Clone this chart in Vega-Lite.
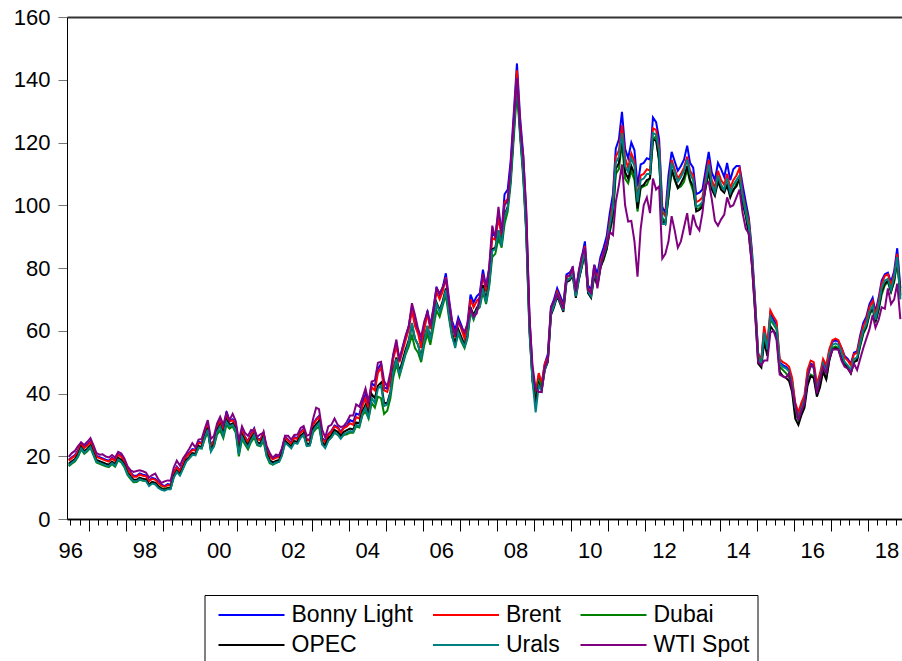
{
"$schema":"https://vega.github.io/schema/vega-lite/v6.json",
"width":835,"height":502,
"autosize":{"type":"none"},
"padding":{"left":67,"top":17,"right":0,"bottom":142},
"background":"white",
"config":{"view":{"stroke":null},"font":"Liberation Sans"},
"data":{"values":[
{"d":"1996-06-15","bl":18.9,"br":18.6,"du":16.8,"op":17.6,"ur":17.1,"wt":19.8},
{"d":"1996-07-15","bl":19.7,"br":19.4,"du":17.6,"op":18.4,"ur":17.9,"wt":21.0},
{"d":"1996-08-15","bl":20.4,"br":20.1,"du":18.3,"op":19.1,"ur":18.6,"wt":21.7},
{"d":"1996-09-15","bl":21.9,"br":21.6,"du":19.8,"op":20.6,"ur":20.1,"wt":23.2},
{"d":"1996-10-15","bl":24.2,"br":24.0,"du":22.2,"op":23.0,"ur":22.5,"wt":24.4},
{"d":"1996-11-15","bl":22.9,"br":22.6,"du":20.8,"op":21.6,"ur":21.1,"wt":23.6},
{"d":"1996-12-15","bl":23.7,"br":23.4,"du":21.6,"op":22.4,"ur":21.9,"wt":24.6},
{"d":"1997-01-15","bl":24.8,"br":24.5,"du":22.7,"op":23.5,"ur":23.0,"wt":25.8},
{"d":"1997-02-15","bl":22.3,"br":22.0,"du":20.2,"op":21.0,"ur":20.5,"wt":23.4},
{"d":"1997-03-15","bl":20.1,"br":19.8,"du":18.0,"op":18.8,"ur":18.3,"wt":21.0},
{"d":"1997-04-15","bl":19.7,"br":19.4,"du":17.6,"op":18.4,"ur":17.9,"wt":20.5},
{"d":"1997-05-15","bl":19.3,"br":19.0,"du":17.2,"op":18.0,"ur":17.5,"wt":20.6},
{"d":"1997-06-15","bl":18.9,"br":18.6,"du":16.8,"op":17.6,"ur":17.1,"wt":19.9},
{"d":"1997-07-15","bl":18.6,"br":18.3,"du":16.5,"op":17.3,"ur":16.8,"wt":19.6},
{"d":"1997-08-15","bl":19.6,"br":19.3,"du":17.5,"op":18.3,"ur":17.8,"wt":20.4},
{"d":"1997-09-15","bl":18.8,"br":18.5,"du":16.7,"op":17.5,"ur":17.0,"wt":19.6},
{"d":"1997-10-15","bl":20.8,"br":20.5,"du":18.7,"op":19.5,"ur":19.0,"wt":21.4},
{"d":"1997-11-15","bl":20.1,"br":19.8,"du":18.0,"op":18.8,"ur":18.3,"wt":20.9},
{"d":"1997-12-15","bl":18.6,"br":18.3,"du":16.5,"op":17.3,"ur":16.8,"wt":19.3},
{"d":"1998-01-15","bl":16.1,"br":15.8,"du":14.0,"op":14.8,"ur":14.3,"wt":16.8},
{"d":"1998-02-15","bl":14.8,"br":14.5,"du":12.7,"op":13.5,"ur":13.0,"wt":15.5},
{"d":"1998-03-15","bl":13.8,"br":13.5,"du":11.7,"op":12.5,"ur":12.0,"wt":15.0},
{"d":"1998-04-15","bl":13.8,"br":13.5,"du":11.8,"op":12.5,"ur":12.0,"wt":15.3},
{"d":"1998-05-15","bl":14.5,"br":14.2,"du":12.5,"op":13.2,"ur":12.7,"wt":15.5},
{"d":"1998-06-15","bl":14.1,"br":13.8,"du":12.2,"op":12.8,"ur":12.3,"wt":15.2},
{"d":"1998-07-15","bl":13.9,"br":13.6,"du":12.2,"op":12.6,"ur":12.1,"wt":14.8},
{"d":"1998-08-15","bl":12.3,"br":12.0,"du":10.8,"op":11.0,"ur":10.5,"wt":13.2},
{"d":"1998-09-15","bl":13.1,"br":12.8,"du":11.6,"op":11.8,"ur":11.3,"wt":14.0},
{"d":"1998-10-15","bl":12.8,"br":12.5,"du":11.4,"op":11.5,"ur":11.0,"wt":14.5},
{"d":"1998-11-15","bl":11.7,"br":11.4,"du":10.4,"op":10.4,"ur":9.9,"wt":12.6},
{"d":"1998-12-15","bl":10.9,"br":10.6,"du":9.8,"op":9.6,"ur":9.3,"wt":11.5},
{"d":"1999-01-15","bl":10.5,"br":10.2,"du":9.6,"op":9.3,"ur":9.0,"wt":12.0},
{"d":"1999-02-15","bl":11.1,"br":10.8,"du":10.0,"op":9.8,"ur":9.5,"wt":12.3},
{"d":"1999-03-15","bl":10.9,"br":10.6,"du":10.0,"op":9.8,"ur":9.5,"wt":12.2},
{"d":"1999-04-15","bl":14.9,"br":14.6,"du":13.4,"op":13.6,"ur":13.2,"wt":16.4},
{"d":"1999-05-15","bl":16.7,"br":16.4,"du":15.0,"op":15.4,"ur":15.0,"wt":18.6},
{"d":"1999-06-15","bl":15.5,"br":15.2,"du":14.2,"op":14.3,"ur":13.8,"wt":17.0},
{"d":"1999-07-15","bl":17.7,"br":17.4,"du":16.2,"op":16.4,"ur":16.0,"wt":19.3},
{"d":"1999-08-15","bl":20.1,"br":19.8,"du":18.4,"op":18.8,"ur":18.3,"wt":20.8},
{"d":"1999-09-15","bl":21.1,"br":20.8,"du":19.4,"op":19.8,"ur":19.3,"wt":22.4},
{"d":"1999-10-15","bl":22.3,"br":22.0,"du":20.4,"op":21.0,"ur":20.5,"wt":24.2},
{"d":"1999-11-15","bl":22.1,"br":21.8,"du":20.6,"op":20.8,"ur":20.3,"wt":22.8},
{"d":"1999-12-15","bl":24.6,"br":24.3,"du":22.6,"op":23.3,"ur":22.8,"wt":25.3},
{"d":"2000-01-15","bl":24.3,"br":24.0,"du":22.5,"op":23.0,"ur":22.5,"wt":25.5},
{"d":"2000-02-15","bl":27.8,"br":27.5,"du":25.5,"op":26.5,"ur":26.0,"wt":28.8},
{"d":"2000-03-15","bl":30.3,"br":30.0,"du":27.8,"op":29.0,"ur":28.5,"wt":31.5},
{"d":"2000-04-15","bl":23.3,"br":23.0,"du":21.8,"op":22.0,"ur":21.5,"wt":25.5},
{"d":"2000-05-15","bl":25.1,"br":24.8,"du":23.2,"op":23.8,"ur":23.3,"wt":26.5},
{"d":"2000-06-15","bl":29.6,"br":29.3,"du":27.0,"op":28.3,"ur":27.8,"wt":30.5},
{"d":"2000-07-15","bl":31.3,"br":31.0,"du":28.2,"op":30.0,"ur":29.5,"wt":32.6},
{"d":"2000-08-15","bl":28.3,"br":28.0,"du":25.8,"op":27.0,"ur":26.5,"wt":30.0},
{"d":"2000-09-15","bl":34.3,"br":32.8,"du":30.0,"op":31.6,"ur":31.0,"wt":33.8},
{"d":"2000-10-15","bl":31.3,"br":31.0,"du":28.8,"op":30.0,"ur":29.5,"wt":31.5},
{"d":"2000-11-15","bl":31.8,"br":31.5,"du":29.5,"op":30.5,"ur":30.0,"wt":33.5},
{"d":"2000-12-15","bl":30.3,"br":30.0,"du":27.5,"op":28.8,"ur":28.3,"wt":31.2},
{"d":"2001-01-15","bl":22.8,"br":22.5,"du":20.0,"op":21.5,"ur":20.6,"wt":25.0},
{"d":"2001-02-15","bl":28.1,"br":27.8,"du":25.5,"op":26.8,"ur":26.2,"wt":29.5},
{"d":"2001-03-15","bl":26.3,"br":26.0,"du":23.8,"op":25.0,"ur":24.3,"wt":27.5},
{"d":"2001-04-15","bl":24.8,"br":24.5,"du":22.2,"op":23.4,"ur":22.8,"wt":26.5},
{"d":"2001-05-15","bl":27.1,"br":26.8,"du":24.5,"op":25.7,"ur":25.0,"wt":28.4},
{"d":"2001-06-15","bl":28.9,"br":28.5,"du":26.0,"op":27.3,"ur":26.8,"wt":28.0},
{"d":"2001-07-15","bl":25.8,"br":25.5,"du":23.5,"op":24.5,"ur":23.8,"wt":26.2},
{"d":"2001-08-15","bl":25.3,"br":25.0,"du":23.2,"op":24.0,"ur":23.3,"wt":27.0},
{"d":"2001-09-15","bl":27.8,"br":27.5,"du":24.8,"op":26.4,"ur":25.8,"wt":27.5},
{"d":"2001-10-15","bl":22.3,"br":22.0,"du":20.0,"op":21.0,"ur":20.3,"wt":23.4},
{"d":"2001-11-15","bl":20.1,"br":19.8,"du":17.8,"op":18.8,"ur":18.2,"wt":21.0},
{"d":"2001-12-15","bl":19.3,"br":19.0,"du":17.3,"op":18.0,"ur":17.4,"wt":19.5},
{"d":"2002-01-15","bl":19.8,"br":19.5,"du":17.8,"op":18.5,"ur":18.0,"wt":20.5},
{"d":"2002-02-15","bl":20.1,"br":19.8,"du":18.3,"op":18.8,"ur":18.2,"wt":20.3},
{"d":"2002-03-15","bl":22.1,"br":21.8,"du":20.4,"op":20.8,"ur":20.2,"wt":22.5},
{"d":"2002-04-15","bl":26.3,"br":26.0,"du":24.3,"op":25.0,"ur":24.3,"wt":26.5},
{"d":"2002-05-15","bl":25.3,"br":25.0,"du":24.0,"op":24.0,"ur":23.5,"wt":26.5},
{"d":"2002-06-15","bl":24.3,"br":24.0,"du":23.0,"op":23.1,"ur":22.5,"wt":25.3},
{"d":"2002-07-15","bl":26.1,"br":25.8,"du":24.5,"op":24.8,"ur":24.3,"wt":26.8},
{"d":"2002-08-15","bl":25.8,"br":25.5,"du":24.6,"op":24.6,"ur":24.0,"wt":26.9},
{"d":"2002-09-15","bl":27.8,"br":27.5,"du":26.0,"op":26.4,"ur":25.9,"wt":29.0},
{"d":"2002-10-15","bl":28.8,"br":28.5,"du":26.8,"op":27.4,"ur":26.8,"wt":29.6},
{"d":"2002-11-15","bl":25.3,"br":25.0,"du":23.3,"op":24.0,"ur":23.3,"wt":26.5},
{"d":"2002-12-15","bl":25.3,"br":25.0,"du":23.6,"op":24.0,"ur":23.4,"wt":27.0},
{"d":"2003-01-15","bl":30.3,"br":30.0,"du":27.5,"op":28.8,"ur":28.0,"wt":31.8},
{"d":"2003-02-15","bl":31.8,"br":31.5,"du":28.8,"op":30.2,"ur":29.5,"wt":35.5},
{"d":"2003-03-15","bl":32.8,"br":32.5,"du":29.5,"op":31.2,"ur":30.5,"wt":35.0},
{"d":"2003-04-15","bl":25.8,"br":25.5,"du":23.8,"op":24.5,"ur":23.8,"wt":28.5},
{"d":"2003-05-15","bl":24.8,"br":24.5,"du":23.0,"op":23.5,"ur":22.6,"wt":26.0},
{"d":"2003-06-15","bl":27.1,"br":26.8,"du":25.0,"op":25.8,"ur":25.0,"wt":29.5},
{"d":"2003-07-15","bl":28.1,"br":27.8,"du":26.0,"op":26.8,"ur":26.0,"wt":30.0},
{"d":"2003-08-15","bl":29.8,"br":29.5,"du":27.5,"op":28.4,"ur":27.6,"wt":32.0},
{"d":"2003-09-15","bl":29.3,"br":29.0,"du":26.8,"op":27.8,"ur":27.0,"wt":30.0},
{"d":"2003-10-15","bl":27.8,"br":27.5,"du":25.8,"op":26.5,"ur":25.6,"wt":29.3},
{"d":"2003-11-15","bl":29.3,"br":29.0,"du":26.8,"op":27.8,"ur":27.0,"wt":29.7},
{"d":"2003-12-15","bl":29.8,"br":29.5,"du":27.0,"op":28.3,"ur":27.5,"wt":31.0},
{"d":"2004-01-15","bl":31.5,"br":30.5,"du":27.5,"op":28.8,"ur":28.0,"wt":33.0},
{"d":"2004-02-15","bl":31.0,"br":30.0,"du":27.5,"op":28.5,"ur":27.8,"wt":33.0},
{"d":"2004-03-15","bl":33.6,"br":32.5,"du":29.5,"op":30.8,"ur":30.0,"wt":36.5},
{"d":"2004-04-15","bl":33.2,"br":32.0,"du":29.2,"op":30.5,"ur":29.6,"wt":35.8},
{"d":"2004-05-15","bl":37.2,"br":36.0,"du":33.0,"op":34.3,"ur":33.5,"wt":38.5},
{"d":"2004-06-15","bl":39.7,"br":38.5,"du":34.3,"op":36.4,"ur":35.5,"wt":41.6},
{"d":"2004-07-15","bl":35.7,"br":34.5,"du":32.0,"op":33.0,"ur":32.0,"wt":37.3},
{"d":"2004-08-15","bl":43.3,"br":42.0,"du":37.0,"op":39.8,"ur":38.5,"wt":43.8},
{"d":"2004-09-15","bl":42.3,"br":41.0,"du":35.5,"op":38.5,"ur":37.0,"wt":44.2},
{"d":"2004-10-15","bl":47.8,"br":46.5,"du":39.0,"op":42.5,"ur":41.5,"wt":49.8},
{"d":"2004-11-15","bl":49.5,"br":48.5,"du":38.5,"op":43.5,"ur":42.5,"wt":50.1},
{"d":"2004-12-15","bl":42.0,"br":41.0,"du":33.5,"op":37.0,"ur":36.0,"wt":44.0},
{"d":"2005-01-15","bl":41.5,"br":40.5,"du":34.5,"op":37.0,"ur":36.5,"wt":42.2},
{"d":"2005-02-15","bl":45.0,"br":44.0,"du":38.5,"op":40.5,"ur":40.0,"wt":46.8},
{"d":"2005-03-15","bl":52.0,"br":51.0,"du":45.0,"op":47.5,"ur":47.0,"wt":52.5},
{"d":"2005-04-15","bl":56.0,"br":55.0,"du":49.5,"op":51.5,"ur":51.0,"wt":57.2},
{"d":"2005-05-15","bl":51.0,"br":50.0,"du":45.5,"op":47.0,"ur":46.0,"wt":50.5},
{"d":"2005-06-15","bl":54.5,"br":53.5,"du":49.0,"op":50.5,"ur":49.5,"wt":54.8},
{"d":"2005-07-15","bl":58.0,"br":57.0,"du":52.5,"op":54.0,"ur":53.0,"wt":58.5},
{"d":"2005-08-15","bl":61.5,"br":60.5,"du":55.0,"op":57.0,"ur":56.5,"wt":61.5},
{"d":"2005-09-15","bl":67.5,"br":66.5,"du":58.5,"op":62.0,"ur":62.5,"wt":68.8},
{"d":"2005-10-15","bl":62.5,"br":61.5,"du":54.5,"op":57.5,"ur":57.5,"wt":65.0},
{"d":"2005-11-15","bl":60.0,"br":59.0,"du":53.0,"op":55.5,"ur":55.5,"wt":60.5},
{"d":"2005-12-15","bl":55.5,"br":54.5,"du":50.0,"op":51.5,"ur":51.0,"wt":58.0},
{"d":"2006-01-15","bl":61.5,"br":60.5,"du":55.5,"op":57.5,"ur":57.0,"wt":63.0},
{"d":"2006-02-15","bl":66.5,"br":65.5,"du":59.0,"op":61.5,"ur":61.5,"wt":66.0},
{"d":"2006-03-15","bl":61.5,"br":60.5,"du":55.5,"op":57.5,"ur":57.0,"wt":61.5},
{"d":"2006-04-15","bl":67.2,"br":66.0,"du":61.0,"op":63.0,"ur":62.5,"wt":66.7},
{"d":"2006-05-15","bl":74.0,"br":72.5,"du":66.5,"op":69.0,"ur":68.5,"wt":73.5},
{"d":"2006-06-15","bl":71.3,"br":70.0,"du":64.5,"op":66.5,"ur":66.0,"wt":72.0},
{"d":"2006-07-15","bl":73.8,"br":72.5,"du":68.0,"op":69.5,"ur":68.8,"wt":73.9},
{"d":"2006-08-15","bl":78.3,"br":77.0,"du":71.5,"op":73.5,"ur":73.0,"wt":76.5},
{"d":"2006-09-15","bl":70.2,"br":69.0,"du":64.0,"op":65.8,"ur":65.0,"wt":69.0},
{"d":"2006-10-15","bl":63.2,"br":62.0,"du":58.0,"op":59.2,"ur":58.5,"wt":62.5},
{"d":"2006-11-15","bl":60.2,"br":58.0,"du":55.5,"op":56.0,"ur":54.5,"wt":58.5},
{"d":"2006-12-15","bl":64.2,"br":63.0,"du":59.0,"op":60.5,"ur":59.5,"wt":63.2},
{"d":"2007-01-15","bl":61.7,"br":60.5,"du":56.5,"op":58.0,"ur":57.0,"wt":61.0},
{"d":"2007-02-15","bl":58.7,"br":57.5,"du":54.5,"op":55.5,"ur":54.9,"wt":59.7},
{"d":"2007-03-15","bl":62.2,"br":61.0,"du":57.5,"op":58.5,"ur":58.0,"wt":62.0},
{"d":"2007-04-15","bl":71.5,"br":70.0,"du":66.0,"op":67.5,"ur":66.5,"wt":67.0},
{"d":"2007-05-15","bl":69.0,"br":67.5,"du":63.5,"op":65.0,"ur":64.0,"wt":64.5},
{"d":"2007-06-15","bl":71.0,"br":69.5,"du":66.5,"op":67.3,"ur":66.5,"wt":65.5},
{"d":"2007-07-15","bl":72.0,"br":70.5,"du":67.5,"op":68.5,"ur":67.8,"wt":71.0},
{"d":"2007-08-15","bl":79.5,"br":77.5,"du":72.5,"op":74.5,"ur":73.5,"wt":78.2},
{"d":"2007-09-15","bl":73.9,"br":72.5,"du":68.5,"op":70.0,"ur":69.0,"wt":74.0},
{"d":"2007-10-15","bl":79.5,"br":78.0,"du":74.0,"op":75.5,"ur":74.5,"wt":80.0},
{"d":"2007-11-15","bl":91.0,"br":89.5,"du":83.5,"op":86.0,"ur":85.5,"wt":93.5},
{"d":"2007-12-15","bl":90.5,"br":89.0,"du":84.5,"op":86.5,"ur":86.0,"wt":89.5},
{"d":"2008-01-15","bl":97.5,"br":96.0,"du":89.5,"op":92.0,"ur":92.0,"wt":99.5},
{"d":"2008-02-15","bl":91.5,"br":90.0,"du":86.5,"op":87.5,"ur":87.0,"wt":91.0},
{"d":"2008-03-15","bl":103.5,"br":101.0,"du":94.0,"op":97.0,"ur":96.5,"wt":100.0},
{"d":"2008-04-15","bl":105.0,"br":102.0,"du":98.0,"op":99.5,"ur":99.0,"wt":101.5},
{"d":"2008-05-15","bl":114.5,"br":111.5,"du":107.0,"op":109.0,"ur":108.5,"wt":112.5},
{"d":"2008-06-15","bl":130.0,"br":127.5,"du":122.0,"op":124.5,"ur":124.0,"wt":127.5},
{"d":"2008-07-15","bl":145.2,"br":143.0,"du":136.5,"op":139.5,"ur":139.0,"wt":140.5},
{"d":"2008-08-15","bl":128.0,"br":126.0,"du":122.0,"op":123.5,"ur":123.0,"wt":125.0},
{"d":"2008-09-15","bl":116.0,"br":113.5,"du":108.5,"op":110.5,"ur":110.0,"wt":115.5},
{"d":"2008-10-15","bl":96.5,"br":94.5,"du":90.5,"op":92.0,"ur":91.0,"wt":98.5},
{"d":"2008-11-15","bl":65.0,"br":63.5,"du":59.5,"op":61.5,"ur":60.5,"wt":64.0},
{"d":"2008-12-15","bl":47.0,"br":46.0,"du":44.0,"op":44.5,"ur":44.0,"wt":49.0},
{"d":"2009-01-15","bl":36.5,"br":40.5,"du":38.0,"op":37.5,"ur":34.0,"wt":41.5},
{"d":"2009-02-15","bl":46.0,"br":46.5,"du":44.0,"op":43.0,"ur":42.5,"wt":40.5},
{"d":"2009-03-15","bl":43.0,"br":43.0,"du":42.5,"op":41.0,"ur":41.0,"wt":40.5},
{"d":"2009-04-15","bl":49.5,"br":49.5,"du":48.0,"op":47.5,"ur":47.5,"wt":48.5},
{"d":"2009-05-15","bl":52.5,"br":51.5,"du":50.5,"op":50.0,"ur":50.5,"wt":50.5},
{"d":"2009-06-15","bl":67.5,"br":66.5,"du":66.0,"op":65.0,"ur":65.5,"wt":67.5},
{"d":"2009-07-15","bl":70.0,"br":69.0,"du":69.0,"op":67.5,"ur":68.0,"wt":69.5},
{"d":"2009-08-15","bl":73.5,"br":72.5,"du":71.5,"op":71.0,"ur":71.5,"wt":71.5},
{"d":"2009-09-15","bl":71.0,"br":70.0,"du":69.5,"op":68.5,"ur":69.0,"wt":69.5},
{"d":"2009-10-15","bl":68.5,"br":67.5,"du":67.0,"op":66.0,"ur":66.5,"wt":67.0},
{"d":"2009-11-15","bl":78.0,"br":77.0,"du":76.5,"op":75.5,"ur":76.0,"wt":77.5},
{"d":"2009-12-15","bl":78.5,"br":77.5,"du":76.5,"op":76.0,"ur":76.5,"wt":77.5},
{"d":"2010-01-15","bl":80.0,"br":79.0,"du":78.0,"op":77.5,"ur":78.0,"wt":80.5},
{"d":"2010-02-15","bl":73.0,"br":72.0,"du":72.5,"op":70.5,"ur":71.0,"wt":72.5},
{"d":"2010-03-15","bl":78.5,"br":77.5,"du":76.5,"op":76.0,"ur":76.5,"wt":79.0},
{"d":"2010-04-15","bl":83.5,"br":82.0,"du":80.5,"op":80.5,"ur":81.0,"wt":84.0},
{"d":"2010-05-15","bl":88.5,"br":87.0,"du":84.5,"op":85.0,"ur":85.5,"wt":86.0},
{"d":"2010-06-15","bl":74.5,"br":73.5,"du":72.5,"op":72.0,"ur":72.5,"wt":73.0},
{"d":"2010-07-15","bl":73.0,"br":72.0,"du":71.5,"op":70.5,"ur":71.0,"wt":72.0},
{"d":"2010-08-15","bl":81.0,"br":79.5,"du":77.5,"op":77.5,"ur":78.5,"wt":81.0},
{"d":"2010-09-15","bl":78.0,"br":76.5,"du":74.5,"op":74.5,"ur":75.5,"wt":73.5},
{"d":"2010-10-15","bl":83.5,"br":82.0,"du":80.5,"op":80.0,"ur":81.0,"wt":80.0},
{"d":"2010-11-15","bl":86.5,"br":85.0,"du":82.5,"op":83.0,"ur":84.0,"wt":84.5},
{"d":"2010-12-15","bl":90.0,"br":88.0,"du":86.0,"op":86.0,"ur":87.0,"wt":87.5},
{"d":"2011-01-15","bl":97.5,"br":95.0,"du":91.5,"op":92.0,"ur":93.5,"wt":91.5},
{"d":"2011-02-15","bl":103.5,"br":101.0,"du":96.0,"op":97.5,"ur":99.0,"wt":90.5},
{"d":"2011-03-15","bl":118.0,"br":115.5,"du":110.0,"op":111.5,"ur":113.5,"wt":101.0},
{"d":"2011-04-15","bl":121.0,"br":117.5,"du":111.5,"op":113.5,"ur":115.5,"wt":106.5},
{"d":"2011-05-15","bl":129.8,"br":125.5,"du":120.0,"op":121.5,"ur":123.0,"wt":113.0},
{"d":"2011-06-15","bl":118.0,"br":115.0,"du":108.5,"op":110.5,"ur":112.5,"wt":100.0},
{"d":"2011-07-15","bl":115.0,"br":112.0,"du":107.0,"op":108.5,"ur":110.5,"wt":94.8},
{"d":"2011-08-15","bl":120.0,"br":116.5,"du":111.0,"op":112.5,"ur":115.0,"wt":95.0},
{"d":"2011-09-15","bl":117.5,"br":114.0,"du":108.0,"op":110.0,"ur":112.5,"wt":88.5},
{"d":"2011-10-15","bl":106.0,"br":102.0,"du":98.0,"op":99.0,"ur":101.0,"wt":77.2},
{"d":"2011-11-15","bl":113.0,"br":109.5,"du":105.5,"op":106.0,"ur":108.0,"wt":92.5},
{"d":"2011-12-15","bl":113.5,"br":110.0,"du":106.0,"op":106.5,"ur":108.5,"wt":100.0},
{"d":"2012-01-15","bl":115.0,"br":111.5,"du":106.5,"op":108.0,"ur":110.0,"wt":102.5},
{"d":"2012-02-15","bl":114.5,"br":111.0,"du":109.0,"op":108.5,"ur":110.0,"wt":97.5},
{"d":"2012-03-15","bl":128.0,"br":124.5,"du":121.0,"op":121.0,"ur":123.0,"wt":108.5},
{"d":"2012-04-15","bl":126.5,"br":124.0,"du":122.0,"op":120.5,"ur":122.5,"wt":105.0},
{"d":"2012-05-15","bl":121.0,"br":118.5,"du":113.5,"op":114.5,"ur":117.0,"wt":106.0},
{"d":"2012-06-15","bl":99.5,"br":98.0,"du":96.0,"op":95.0,"ur":94.0,"wt":83.0},
{"d":"2012-07-15","bl":97.5,"br":96.5,"du":94.5,"op":94.0,"ur":94.0,"wt":84.5},
{"d":"2012-08-15","bl":109.5,"br":106.0,"du":102.5,"op":103.0,"ur":105.0,"wt":88.5},
{"d":"2012-09-15","bl":117.0,"br":114.5,"du":111.0,"op":111.5,"ur":113.5,"wt":96.5},
{"d":"2012-10-15","bl":114.0,"br":111.5,"du":108.0,"op":108.5,"ur":110.5,"wt":92.0},
{"d":"2012-11-15","bl":111.0,"br":108.5,"du":105.5,"op":105.5,"ur":107.5,"wt":86.5},
{"d":"2012-12-15","bl":112.5,"br":110.0,"du":106.0,"op":107.0,"ur":109.0,"wt":88.5},
{"d":"2013-01-15","bl":114.5,"br":112.0,"du":107.5,"op":109.0,"ur":111.0,"wt":93.0},
{"d":"2013-02-15","bl":119.0,"br":115.5,"du":111.5,"op":112.5,"ur":114.5,"wt":97.5},
{"d":"2013-03-15","bl":113.5,"br":111.0,"du":107.5,"op":108.0,"ur":110.0,"wt":90.5},
{"d":"2013-04-15","bl":112.0,"br":109.5,"du":104.5,"op":106.0,"ur":108.0,"wt":97.0},
{"d":"2013-05-15","bl":103.5,"br":101.0,"du":99.0,"op":98.0,"ur":99.5,"wt":93.5},
{"d":"2013-06-15","bl":104.0,"br":101.5,"du":99.0,"op":98.5,"ur":100.0,"wt":92.0},
{"d":"2013-07-15","bl":105.0,"br":102.5,"du":100.5,"op":99.5,"ur":101.0,"wt":97.5},
{"d":"2013-08-15","bl":111.0,"br":108.5,"du":105.5,"op":105.5,"ur":107.0,"wt":106.5},
{"d":"2013-09-15","bl":117.0,"br":114.5,"du":110.5,"op":111.0,"ur":113.0,"wt":107.5},
{"d":"2013-10-15","bl":110.5,"br":108.0,"du":105.5,"op":105.0,"ur":106.5,"wt":102.0},
{"d":"2013-11-15","bl":108.0,"br":105.5,"du":104.5,"op":103.0,"ur":104.0,"wt":95.0},
{"d":"2013-12-15","bl":113.5,"br":111.0,"du":108.5,"op":107.5,"ur":109.5,"wt":93.5},
{"d":"2014-01-15","bl":111.5,"br":108.0,"du":106.0,"op":105.0,"ur":106.5,"wt":95.5},
{"d":"2014-02-15","bl":109.0,"br":106.5,"du":105.0,"op":104.0,"ur":105.0,"wt":97.0},
{"d":"2014-03-15","bl":113.5,"br":110.0,"du":106.0,"op":106.5,"ur":108.5,"wt":102.5},
{"d":"2014-04-15","bl":108.0,"br":105.5,"du":103.5,"op":102.5,"ur":104.0,"wt":99.5},
{"d":"2014-05-15","bl":111.5,"br":108.0,"du":104.5,"op":105.0,"ur":106.5,"wt":100.0},
{"d":"2014-06-15","bl":112.5,"br":109.5,"du":107.0,"op":106.0,"ur":108.0,"wt":102.5},
{"d":"2014-07-15","bl":112.5,"br":111.8,"du":108.0,"op":108.5,"ur":109.5,"wt":105.0},
{"d":"2014-08-15","bl":106.5,"br":104.0,"du":103.0,"op":100.5,"ur":102.5,"wt":97.5},
{"d":"2014-09-15","bl":101.0,"br":99.0,"du":98.5,"op":96.5,"ur":97.5,"wt":92.5},
{"d":"2014-10-15","bl":96.0,"br":95.0,"du":93.5,"op":90.5,"ur":93.0,"wt":91.0},
{"d":"2014-11-15","bl":85.5,"br":84.0,"du":83.0,"op":81.0,"ur":83.0,"wt":80.5},
{"d":"2014-12-15","bl":70.0,"br":69.0,"du":68.5,"op":66.0,"ur":67.5,"wt":67.0},
{"d":"2015-01-15","bl":52.8,"br":52.5,"du":52.0,"op":49.5,"ur":51.0,"wt":50.0},
{"d":"2015-02-15","bl":50.5,"br":51.0,"du":49.5,"op":48.3,"ur":49.5,"wt":49.0},
{"d":"2015-03-15","bl":60.5,"br":61.5,"du":58.5,"op":56.5,"ur":59.5,"wt":50.5},
{"d":"2015-04-15","bl":55.0,"br":55.5,"du":53.5,"op":52.0,"ur":54.0,"wt":50.5},
{"d":"2015-05-15","bl":65.5,"br":66.5,"du":63.5,"op":61.5,"ur":64.5,"wt":59.5},
{"d":"2015-06-15","bl":63.5,"br":64.5,"du":62.0,"op":60.0,"ur":62.5,"wt":60.0},
{"d":"2015-07-15","bl":62.0,"br":63.0,"du":60.5,"op":58.5,"ur":61.0,"wt":57.0},
{"d":"2015-08-15","bl":50.0,"br":51.0,"du":48.5,"op":47.0,"ur":49.5,"wt":46.0},
{"d":"2015-09-15","bl":49.0,"br":50.0,"du":47.5,"op":45.5,"ur":48.5,"wt":45.5},
{"d":"2015-10-15","bl":48.5,"br":49.5,"du":46.5,"op":45.0,"ur":48.0,"wt":45.0},
{"d":"2015-11-15","bl":47.5,"br":48.5,"du":45.0,"op":44.0,"ur":47.0,"wt":46.5},
{"d":"2015-12-15","bl":44.0,"br":45.0,"du":41.5,"op":40.5,"ur":43.0,"wt":41.5},
{"d":"2016-01-15","bl":36.0,"br":37.0,"du":33.5,"op":32.0,"ur":35.5,"wt":36.5},
{"d":"2016-02-15","bl":33.0,"br":34.0,"du":31.5,"op":30.0,"ur":32.5,"wt":31.5},
{"d":"2016-03-15","bl":36.0,"br":37.0,"du":34.5,"op":33.0,"ur":35.0,"wt":34.5},
{"d":"2016-04-15","bl":38.5,"br":39.5,"du":36.5,"op":35.5,"ur":38.0,"wt":36.8},
{"d":"2016-05-15","bl":46.5,"br":47.5,"du":43.5,"op":42.5,"ur":45.5,"wt":45.0},
{"d":"2016-06-15","bl":49.5,"br":50.5,"du":46.0,"op":45.5,"ur":49.0,"wt":49.0},
{"d":"2016-07-15","bl":49.0,"br":50.0,"du":45.5,"op":45.0,"ur":48.0,"wt":48.5},
{"d":"2016-08-15","bl":42.0,"br":43.0,"du":40.0,"op":39.0,"ur":41.5,"wt":40.0},
{"d":"2016-09-15","bl":45.5,"br":46.5,"du":43.5,"op":42.0,"ur":45.0,"wt":44.5},
{"d":"2016-10-15","bl":50.0,"br":51.0,"du":48.0,"op":47.0,"ur":49.5,"wt":48.5},
{"d":"2016-11-15","bl":48.0,"br":49.0,"du":44.5,"op":44.5,"ur":47.0,"wt":46.5},
{"d":"2016-12-15","bl":53.5,"br":54.0,"du":50.5,"op":50.5,"ur":52.5,"wt":51.0},
{"d":"2017-01-15","bl":56.5,"br":57.0,"du":54.5,"op":54.0,"ur":55.5,"wt":54.0},
{"d":"2017-02-15","bl":57.0,"br":57.5,"du":55.0,"op":54.5,"ur":56.0,"wt":54.0},
{"d":"2017-03-15","bl":56.5,"br":57.0,"du":54.5,"op":54.0,"ur":55.5,"wt":54.0},
{"d":"2017-04-15","bl":54.5,"br":54.5,"du":51.5,"op":51.0,"ur":53.0,"wt":50.5},
{"d":"2017-05-15","bl":52.0,"br":51.5,"du":50.0,"op":49.5,"ur":50.0,"wt":48.5},
{"d":"2017-06-15","bl":51.0,"br":50.5,"du":48.5,"op":48.0,"ur":49.0,"wt":48.0},
{"d":"2017-07-15","bl":49.5,"br":49.0,"du":46.5,"op":46.5,"ur":47.5,"wt":46.5},
{"d":"2017-08-15","bl":53.0,"br":52.5,"du":50.0,"op":50.0,"ur":51.0,"wt":49.5},
{"d":"2017-09-15","bl":53.5,"br":53.0,"du":51.0,"op":50.5,"ur":51.5,"wt":47.5},
{"d":"2017-10-15","bl":58.5,"br":57.5,"du":55.0,"op":55.5,"ur":56.0,"wt":51.0},
{"d":"2017-11-15","bl":62.5,"br":61.5,"du":59.0,"op":59.5,"ur":60.0,"wt":54.5},
{"d":"2017-12-15","bl":64.5,"br":63.5,"du":61.0,"op":61.5,"ur":62.0,"wt":57.5},
{"d":"2018-01-15","bl":68.5,"br":67.5,"du":65.0,"op":65.5,"ur":66.0,"wt":60.5},
{"d":"2018-02-15","bl":70.5,"br":69.5,"du":67.0,"op":67.5,"ur":68.0,"wt":65.0},
{"d":"2018-03-15","bl":66.0,"br":65.0,"du":62.5,"op":63.0,"ur":63.5,"wt":61.0},
{"d":"2018-04-15","bl":70.5,"br":69.5,"du":66.5,"op":67.0,"ur":68.0,"wt":63.5},
{"d":"2018-05-15","bl":76.0,"br":75.0,"du":71.5,"op":72.5,"ur":73.5,"wt":67.5},
{"d":"2018-06-15","bl":78.0,"br":77.5,"du":74.5,"op":75.0,"ur":76.0,"wt":67.0},
{"d":"2018-07-15","bl":78.5,"br":78.0,"du":75.5,"op":76.0,"ur":76.5,"wt":73.5},
{"d":"2018-08-15","bl":75.5,"br":74.5,"du":72.5,"op":72.5,"ur":73.0,"wt":68.5},
{"d":"2018-09-15","bl":79.0,"br":78.0,"du":75.5,"op":76.0,"ur":77.0,"wt":70.0},
{"d":"2018-10-15","bl":86.3,"br":84.5,"du":82.0,"op":83.0,"ur":83.5,"wt":75.0},
{"d":"2018-11-15","bl":73.5,"br":72.5,"du":71.0,"op":71.5,"ur":70.0,"wt":63.7}
]},
"transform":[{"fold":["bl","br","du","op","ur","wt"],"as":["s","v"]}],
"layer":[
{"mark":{"type":"line","strokeWidth":2,"clip":true},
"encoding":{
"x":{"field":"d","type":"temporal","scale":{"type":"utc","domain":[{"year":1996,"month":5,"date":29,"utc":true},{"year":2018,"month":12,"date":1,"utc":true}]},
"axis":{"orient":"bottom","title":null,"grid":false,"tickCount":{"interval":"year","step":1},"tickSize":12,"labels":false,
"domainColor":"black","domainWidth":1.5,"tickColor":"black","tickWidth":1}},
"y":{"field":"v","type":"quantitative","scale":{"domain":[0,160],"nice":false,"zero":false},
"axis":{"title":null,"grid":false,"values":[0,20,40,60,80,100,120,140,160],"tickSize":9,"tickColor":"#777777","tickWidth":1,"domainColor":"black","domainWidth":1,"labelFontSize":22,"labelFont":"Liberation Sans","labelColor":"black","labelPadding":8}},
"color":{"field":"s","type":"nominal","scale":{"domain":["bl","br","du","op","ur","wt"],"range":["#0000ff","#ff0000","#008000","#000000","#008080","#800080"]},
"legend":{"orient":"none","legendX":137.5,"legendY":578,"direction":"horizontal","columns":3,"title":null,
"symbolType":"M-1,0H5","symbolSize":484,"symbolStrokeWidth":2,"symbolOffset":5,"labelOffset":50,"labelFontSize":23,"labelFont":"Liberation Sans","labelColor":"black",
"columnPadding":13.5,"rowPadding":6,"padding":8,"strokeColor":"black","fillColor":"white",
"labelExpr":"['Bonny Light','Brent','Dubai','OPEC','Urals','WTI Spot'][indexof(['bl','br','du','op','ur','wt'],datum.label)]"}}
}},
{"mark":{"type":"line","opacity":0},
"encoding":{
"x":{"field":"d","type":"temporal","axis":{"orient":"bottom","title":null,"grid":false,"tickCount":{"interval":"month","step":3},"tickSize":6,
"labelExpr":"utcmonth(datum.value)==6 && utcyear(datum.value)%2==0 ? utcFormat(datum.value,'%y') : ''",
"labelOverlap":false,"labelFlush":false,"labelBound":false,"labelAngle":0,"labelFontSize":22,"labelFont":"Liberation Sans","labelColor":"black","labelPadding":15,
"domainColor":"black","domainWidth":1.5,"tickColor":"black","tickWidth":1}},
"y":{"field":"v","type":"quantitative"}
}},
{"mark":{"type":"line","opacity":0},
"encoding":{
"x":{"field":"d","type":"temporal","axis":{"orient":"top","title":null,"grid":false,"ticks":false,"labels":false,"domainColor":"#333333","domainWidth":2}},
"y":{"field":"v","type":"quantitative"}
}}
],
"resolve":{"axis":{"x":"independent"}}
}
